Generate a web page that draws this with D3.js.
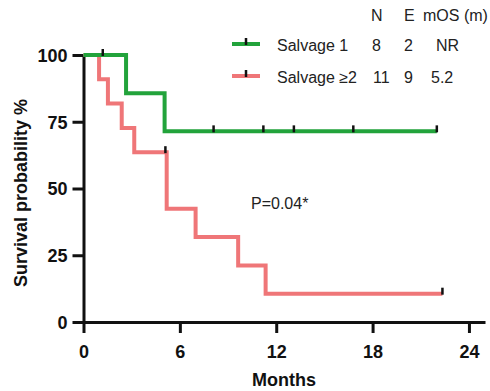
<!DOCTYPE html>
<html>
<head>
<meta charset="utf-8">
<script src="https://cdn.jsdelivr.net/npm/d3@7/dist/d3.min.js"></script>
<style>
  body { margin: 0; background: #fff; }
  svg { font-family: 'Liberation Sans', Arial, sans-serif; }
</style>
</head>
<body>
<div id="chart"></div>
<script>
// Kaplan-Meier steps (months, survival %)
const salvage1Times = [0, 2.65, 5.05, 22.0];
const salvage1Surv = [100, 85.7, 71.4, 71.4];
const salvage1Censor = [1.2, 8.1, 11.2, 13.1, 16.8, 22.0];

const salvage2Times = [0, 0.97, 1.52, 2.38, 3.16, 5.18, 6.98, 9.63, 11.34, 22.35];
const salvage2Surv = [100, 90.9, 81.8, 72.7, 63.6, 42.4, 31.8, 21.2, 10.6, 10.6];
const salvage2Censor = [5.1, 22.35];

const xTicks = [0, 6, 12, 18, 24];
const yTicks = [0, 25, 50, 75, 100];

const legendHeader = ['N', 'E', 'mOS (m)'];
const groups = ['Salvage 1', 'Salvage \u22652'];
const groupN = ['8', '11'];
const groupE = ['2', '9'];
const groupMOS = ['NR', '5.2'];
const pText = 'P=0.04*';

const width = 490, height = 391;
const green = '#22a33b';
const red = '#ef7678';

const svg = d3.select('#chart').append('svg')
  .attr('width', width).attr('height', height);

const x = d3.scaleLinear().domain([0, 25]).range([83.5, 485]);
const y = d3.scaleLinear().domain([0, 100]).range([322, 55]);

// survival at time t (step function)
function survAt(times, surv, t) {
  let s = surv[0];
  for (let i = 0; i < times.length; i++) if (times[i] <= t) s = surv[i];
  return s;
}

const series = [
  { times: salvage1Times, surv: salvage1Surv, censor: salvage1Censor, color: green },
  { times: salvage2Times, surv: salvage2Surv, censor: salvage2Censor, color: red }
];

const line = d3.line().curve(d3.curveStepAfter).x(d => x(d[0])).y(d => y(d[1]));

// axes
const xAxis = svg.append('g')
  .attr('transform', `translate(0,${y(0)})`)
  .call(d3.axisBottom(x).tickValues(xTicks).tickSize(11).tickSizeOuter(0).tickPadding(8));
const yAxis = svg.append('g')
  .attr('transform', `translate(${x(0)},0)`)
  .call(d3.axisLeft(y).tickValues(yTicks).tickSize(11).tickSizeOuter(0).tickPadding(5));

[xAxis, yAxis].forEach(g => {
  g.selectAll('path.domain').attr('stroke', '#111').attr('stroke-width', 3);
  g.selectAll('.tick line').attr('stroke', '#111').attr('stroke-width', 3);
  g.selectAll('.tick text')
    .attr('fill', '#111')
    .style('font-size', '18px')
    .style('font-weight', 'bold');
});
xAxis.selectAll('.tick text').attr('dy', '0.95em');
yAxis.selectAll('.tick text').attr('dy', '0.36em');

// curves (red drawn first, green on top)
series.slice().reverse().forEach(s => {
  svg.append('path')
    .datum(s.times.map((t, i) => [t, s.surv[i]]))
    .attr('fill', 'none')
    .attr('stroke', s.color)
    .attr('stroke-width', 4)
    .attr('d', line);
});

// censor ticks
series.forEach(s => {
  svg.selectAll(null)
    .data(s.censor)
    .enter()
    .append('line')
    .attr('x1', d => x(d)).attr('x2', d => x(d))
    .attr('y1', d => y(survAt(s.times, s.surv, d)) - 6)
    .attr('y2', d => y(survAt(s.times, s.surv, d)) + 1)
    .attr('stroke', '#111')
    .attr('stroke-width', 2.5);
});

// axis titles
svg.append('text')
  .attr('x', 284).attr('y', 386)
  .attr('text-anchor', 'middle')
  .style('font-size', '18px').style('font-weight', 'bold')
  .attr('fill', '#111')
  .text('Months');

svg.append('text')
  .attr('transform', 'translate(27,193) rotate(-90)')
  .attr('text-anchor', 'middle')
  .style('font-size', '18px').style('font-weight', 'bold')
  .attr('fill', '#111')
  .text('Survival probability %');

// p value
svg.append('text')
  .attr('x', 251).attr('y', 209)
  .style('font-size', '16px')
  .attr('fill', '#222')
  .text(pText);

// legend
const colX = [371, 404, 423];
const valX = [[372, 404, 436], [373, 404, 431]];
const rowY = [44, 76];
const legend = svg.append('g').style('font-size', '16px').attr('fill', '#222');

legendHeader.forEach((h, i) => {
  legend.append('text').attr('x', colX[i]).attr('y', 21).text(h);
});

groups.forEach((g, i) => {
  const cy = rowY[i];
  legend.append('line')
    .attr('x1', 232).attr('x2', 260).attr('y1', cy).attr('y2', cy)
    .attr('stroke', series[i].color).attr('stroke-width', 4);
  legend.append('line')
    .attr('x1', 246).attr('x2', 246).attr('y1', cy - 6).attr('y2', cy + 1)
    .attr('stroke', '#111').attr('stroke-width', 2.5);
  legend.append('text').attr('x', 277).attr('y', cy + 7).text(g);
  [groupN[i], groupE[i], groupMOS[i]].forEach((v, j) => {
    legend.append('text').attr('x', valX[i][j]).attr('y', cy + 7).text(v);
  });
});
</script>
</body>
</html>
